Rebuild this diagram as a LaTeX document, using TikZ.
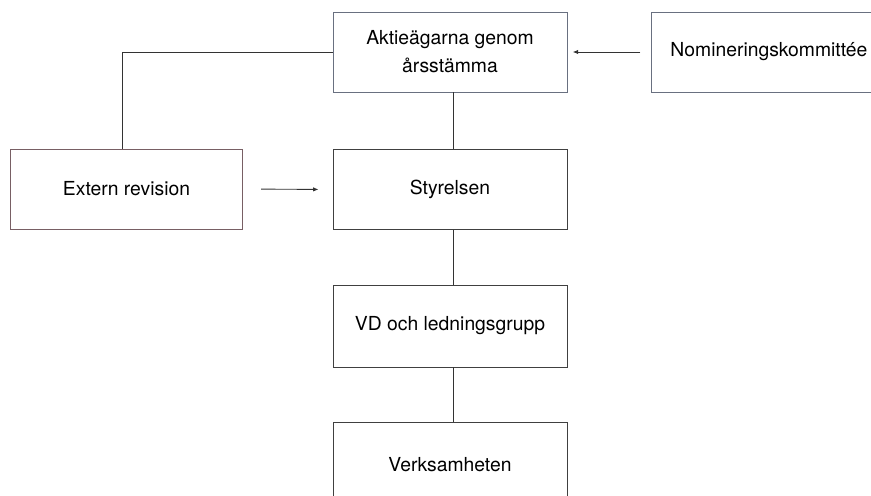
\documentclass[tikz,border=0pt]{standalone}
\usepackage{fontspec}
\setmainfont{TeX Gyre Heros}
\usetikzlibrary{arrows.meta}

\definecolor{slateline}{RGB}{105,112,128}
\definecolor{mauveline}{RGB}{120,95,100}

\begin{document}
\begin{tikzpicture}[x=0.02cm, y=-0.02cm,
    every node/.style={font=\fontsize{11}{16}\selectfont},
    orgbox/.style={draw=#1, line width=0.55pt, minimum width=4.68cm, minimum height=1.6cm, align=center, inner sep=0pt},
    orgbox/.default=black!75,
    link/.style={line width=0.5pt, black!80},
    feed/.style={link, -{Latex[length=3pt, width=2.5pt]}}]
  % canvas
  \useasboundingbox (0,0) rectangle (871,495);
  \clip (0,0) rectangle (871,495);
  % boxes
  \node[orgbox=slateline] (agare) at (450,52)  {Aktieägarna genom\\årsstämma};
  \node[orgbox=slateline, anchor=west, text width=5.2cm, inner xsep=0.38cm, align=left] (valb) at (651,52) {Nomineringskommittée};
  \node[orgbox=mauveline, minimum width=4.66cm] (revision) at (126.5,189) {Extern revision};
  \node[orgbox] (styrelse) at (450,189.5) {Styrelsen};
  \node[orgbox, minimum height=1.64cm] (ledning) at (450,326) {VD och ledningsgrupp};
  \node[orgbox, minimum height=1.72cm] (verksamhet) at (450,465) {Verksamheten};
  % lines between boxes
  \draw[link] ([xshift=0.06cm]agare.south) -- ([xshift=0.06cm]styrelse.north);
  \draw[link] ([xshift=0.06cm]styrelse.south) -- ([xshift=0.06cm]ledning.north);
  \draw[link] ([xshift=0.06cm]ledning.south) -- ([xshift=0.06cm]verksamhet.north);
  \draw[link] (agare.west) -| ([xshift=-0.09cm]revision.north);
  \draw[feed, shorten <=6pt, shorten >=3pt] (valb.west) -- (agare.east);
  \draw[feed, shorten <=10pt, shorten >=8pt] (revision.east) -- (styrelse.west);
\end{tikzpicture}
\end{document}
